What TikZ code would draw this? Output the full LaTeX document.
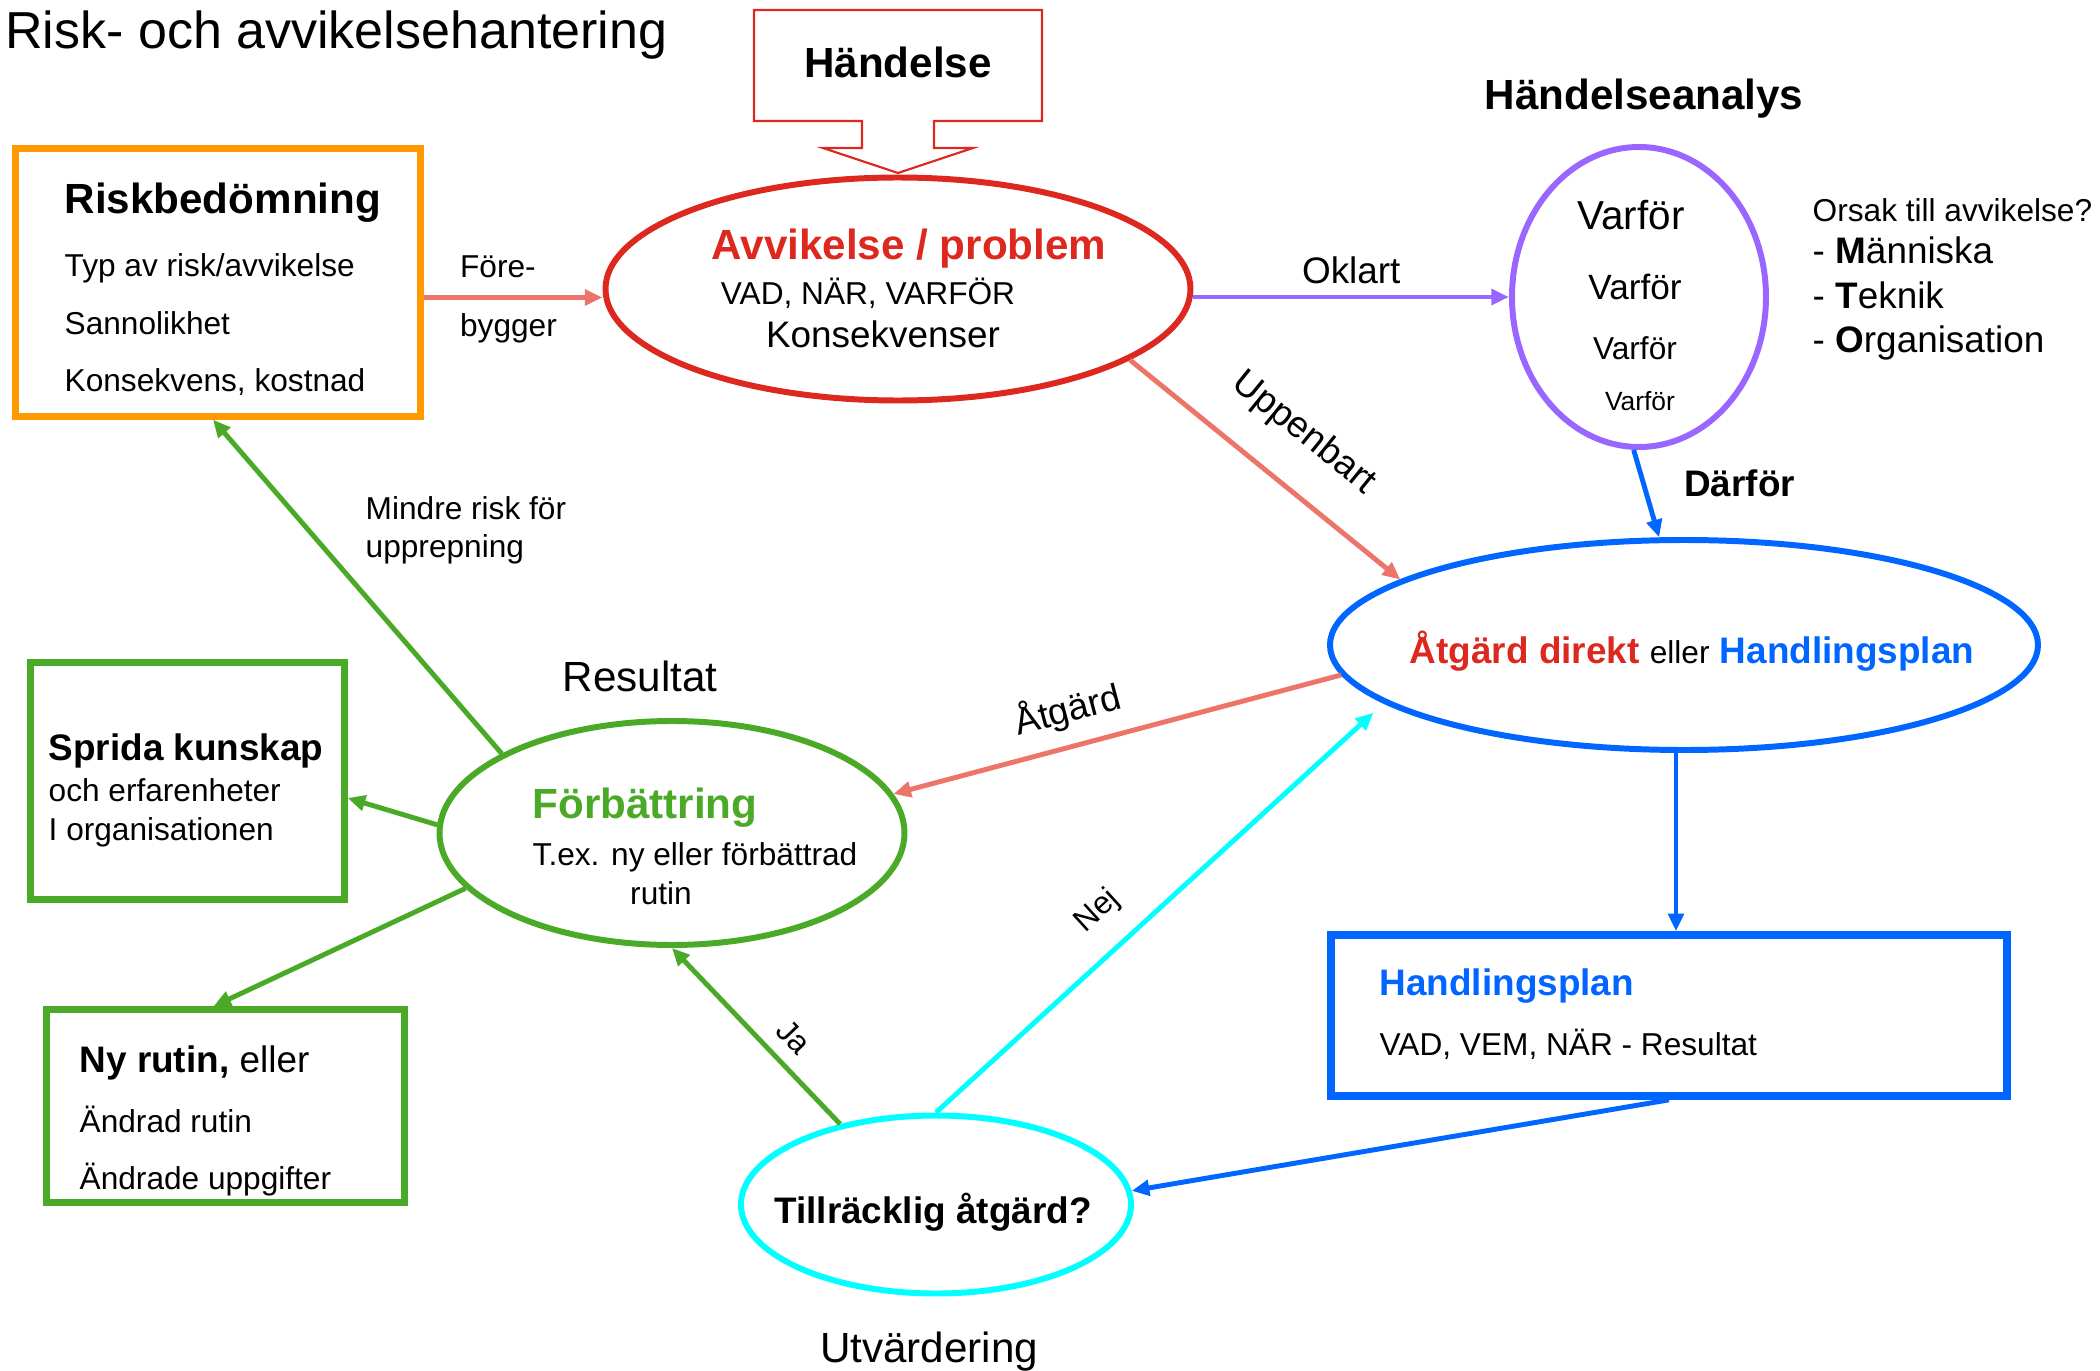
\documentclass[tikz,border=0pt]{standalone}
\usepackage{fontspec}
\setmainfont{Liberation Sans}
\usepackage{tikz}
\usetikzlibrary{shapes.geometric,arrows.meta}
\definecolor{avvred}{RGB}{220,40,30}
\definecolor{salmon}{RGB}{236,116,104}
\definecolor{riskorange}{RGB}{255,153,0}
\definecolor{whypurple}{RGB}{153,102,255}
\definecolor{planblue}{RGB}{0,102,255}
\definecolor{okgreen}{RGB}{74,170,40}
\definecolor{evalcyan}{RGB}{0,255,255}
\newcommand\sz[1]{\fontsize{#1}{#1}\selectfont}
\tikzset{
	>={Triangle[length=5pt,width=4.4pt]},
	oval/.style={draw, ellipse, line width=1.7pt},
	frame/.style={draw, line width=1.8pt},
	flow/.style={->, line width=1.4pt},
	txt/.style={inner sep=0pt, text height=1.5ex, text depth=.25ex, yshift=-0.4mm},
	f9/.style={font=\sz{9}},
	f105/.style={font=\sz{10.5}},
	f12/.style={font=\sz{12}}
}

\begin{document}
\begin{tikzpicture}
	\useasboundingbox (0,0) rectangle (21,-13.71);
	\node[txt, font=\sz{14.8}, anchor=base east] (title) at (6.68,-0.44) {Risk- och avvikelsehantering};

	\draw[avvred, line width=0.6pt] (7.54,-0.10) -- (10.42,-0.10) -- (10.42,-1.21) -- (9.34,-1.21) -- (9.34,-1.48)
		-- (9.73,-1.48) -- (8.98,-1.73) -- (8.23,-1.48) -- (8.62,-1.48) -- (8.62,-1.21) -- (7.54,-1.21) -- cycle;
	\node[txt, font=\sz{12}\bfseries] (event) at (8.98,-0.62) {Händelse};

	\node[oval, avvred, minimum width=5.85cm, minimum height=2.23cm] (avvik) at (8.98,-2.89) {};
	\node[txt, font=\sz{12}\bfseries, text=avvred] (avvtitle) at (9.09,-2.44) {Avvikelse / problem};
	\node[txt, f9] (avvwhat) at (8.68,-2.89) {VAD, NÄR, VARFÖR};
	\node[txt, f105] (avvcons) at (8.83,-3.32) {Konsekvenser};

	\node[frame, riskorange, minimum width=4.05cm, minimum height=2.68cm] (risk) at (2.18,-2.825) {};
	\node[txt, font=\sz{12}\bfseries, anchor=west] (risktitle) at (0.64,-1.98) {Riskbedömning};
	\node[txt, f9, anchor=west] (risktype) at (0.64,-2.61) {Typ av risk/avvikelse};
	\node[txt, f9, anchor=west] (riskprob) at (0.64,-3.19) {Sannolikhet};
	\node[txt, f9, anchor=west] (riskcost) at (0.64,-3.76) {Konsekvens, kostnad};

	\node[txt, font=\sz{12}\bfseries] (analys) at (16.44,-0.94) {Händelseanalys};
	\node[oval, whypurple, minimum width=2.54cm, minimum height=3.0cm] (varfor) at (16.39,-2.97) {};
	\foreach \x/\y/\s [count=\i] in {16.31/2.14/11.5, 16.35/2.84/10, 16.35/3.44/9, 16.40/3.95/7.5}
		\node[txt, font=\sz{\s}] (why\i) at (\x,-\y) {Varför};

	\node[txt, f9, anchor=west] (cause) at (18.12,-2.06) {Orsak till avvikelse?};
	\foreach \y/\lead/\rest [count=\i] in {2.48/M/änniska, 2.93/T/eknik, 3.37/O/rganisation}
		\node[txt, f105, anchor=west] (cause\i) at (18.12,-\y) {- \textbf{\lead}\rest};

	\node[oval, planblue, minimum width=7.08cm, minimum height=2.1cm] (atgard) at (16.84,-6.45) {};
	\node[txt, f105] (atgtext) at (16.92,-6.48) {\textcolor{avvred}{\bfseries Åtgärd direkt} {\sz{9}eller} \textcolor{planblue}{\bfseries Handlingsplan}};

	\node[frame, planblue, line width=2.2pt, minimum width=6.76cm, minimum height=1.61cm] (hplan) at (16.69,-10.155) {};
	\node[txt, font=\sz{10.5}\bfseries, text=planblue, anchor=west] (hplantitle) at (13.79,-9.80) {Handlingsplan};
	\node[txt, f9, anchor=west] (hplanwhat) at (13.79,-10.40) {VAD, VEM, NÄR - Resultat};

	\node[txt, f12] (result) at (6.40,-6.76) {Resultat};
	\node[oval, okgreen, minimum width=4.65cm, minimum height=2.24cm] (forb) at (6.72,-8.33) {};
	\node[txt, font=\sz{12}\bfseries, text=okgreen] (forbtitle) at (6.45,-8.03) {Förbättring};
	\node[txt, f9] (forbex) at (6.95,-8.50) {T.ex. ny eller förbättrad};
	\node[txt, f9] (forbrut) at (6.61,-8.89) {rutin};

	\node[frame, okgreen, minimum width=3.14cm, minimum height=2.37cm] (sprida) at (1.875,-7.81) {};
	\node[txt, font=\sz{10.5}\bfseries, anchor=west] (spridatitle) at (0.48,-7.45) {Sprida kunskap};
	\node[txt, f9, anchor=west] (spridaexp) at (0.48,-7.86) {och erfarenheter};
	\node[txt, f9, anchor=west] (spridaorg) at (0.48,-8.25) {I organisationen};

	\node[frame, okgreen, minimum width=3.58cm, minimum height=1.93cm] (nyrutin) at (2.255,-11.06) {};
	\node[txt, f105, anchor=west] (nytitle) at (0.79,-10.57) {\textbf{Ny rutin,} eller};
	\node[txt, f9, anchor=west] (nychanged) at (0.79,-11.17) {Ändrad rutin};
	\node[txt, f9, anchor=west] (nytasks) at (0.79,-11.74) {Ändrade uppgifter};

	\node[oval, evalcyan, minimum width=3.90cm, minimum height=1.78cm] (tillr) at (9.36,-12.045) {};
	\node[txt, font=\sz{10.5}\bfseries] (tillrtext) at (9.33,-12.08) {Tillräcklig åtgärd?};
	\node[txt, f12] (evaluation) at (9.29,-13.47) {Utvärdering};

	\coordinate (prevstart) at ([yshift=-1.5mm]risk.east);
	\coordinate (planin) at ([xshift=0.7mm]hplan.north);
	\draw[flow, salmon] (prevstart) -- (prevstart -| avvik.west)
		node[txt, f9, text=black, pos=.19, anchor=south west, yshift=1.65mm] (prev1) {Före-}
		node[txt, f9, text=black, pos=.19, anchor=north west, yshift=-0.45mm] (prev2) {bygger};
	\draw[flow, whypurple] (varfor.west -| avvik.east) -- (varfor.west)
		node[txt, f105, text=black, midway, above=1mm] (unclear) {Oklart};
	\draw[flow, salmon] (avvik.343) -- (atgard.167)
		node[txt, f105, text=black, pos=.52, sloped, above=4mm] (obvious) {Uppenbart};
	\draw[flow, planblue] (varfor.268) -- (atgard.103)
		node[txt, font=\sz{10.5}\bfseries, text=black, pos=.36, right=3.9mm] (because) {Därför};
	\draw[flow, salmon] (atgard.185) -- (forb.10)
		node[txt, f105, text=black, pos=.59, sloped, above=2.1mm] (act) {Åtgärd};
	\draw[flow, planblue] (planin |- atgard.south) -- (planin);
	\draw[flow, planblue] (hplan.south) -- (tillr.4);
	\draw[flow, evalcyan, shorten >=1.4mm] (tillr.north) -- (atgard.191)
		node[txt, f9, text=black, pos=.42, sloped, above=2.85mm] (no) {Nej};
	\draw[flow, okgreen] (tillr.140) -- (forb.south)
		node[txt, f9, text=black, pos=.39, sloped, above=1.25mm] (yes) {Ja};
	\draw[flow, okgreen] (forb.155) -- ([xshift=-0.5mm]risk.south)
		node[inner sep=0pt, font=\fontsize{9}{10.8}\selectfont, text=black, align=left, pos=.67, right=5.5mm] (lessrisk) {Mindre risk för\\upprepning};
	\draw[flow, okgreen] (forb.178) -- ([yshift=-1.7mm]sprida.east);
	\draw[flow, okgreen] (forb.195) -- ([xshift=-1.2mm]nyrutin.north);
\end{tikzpicture}
\end{document}
